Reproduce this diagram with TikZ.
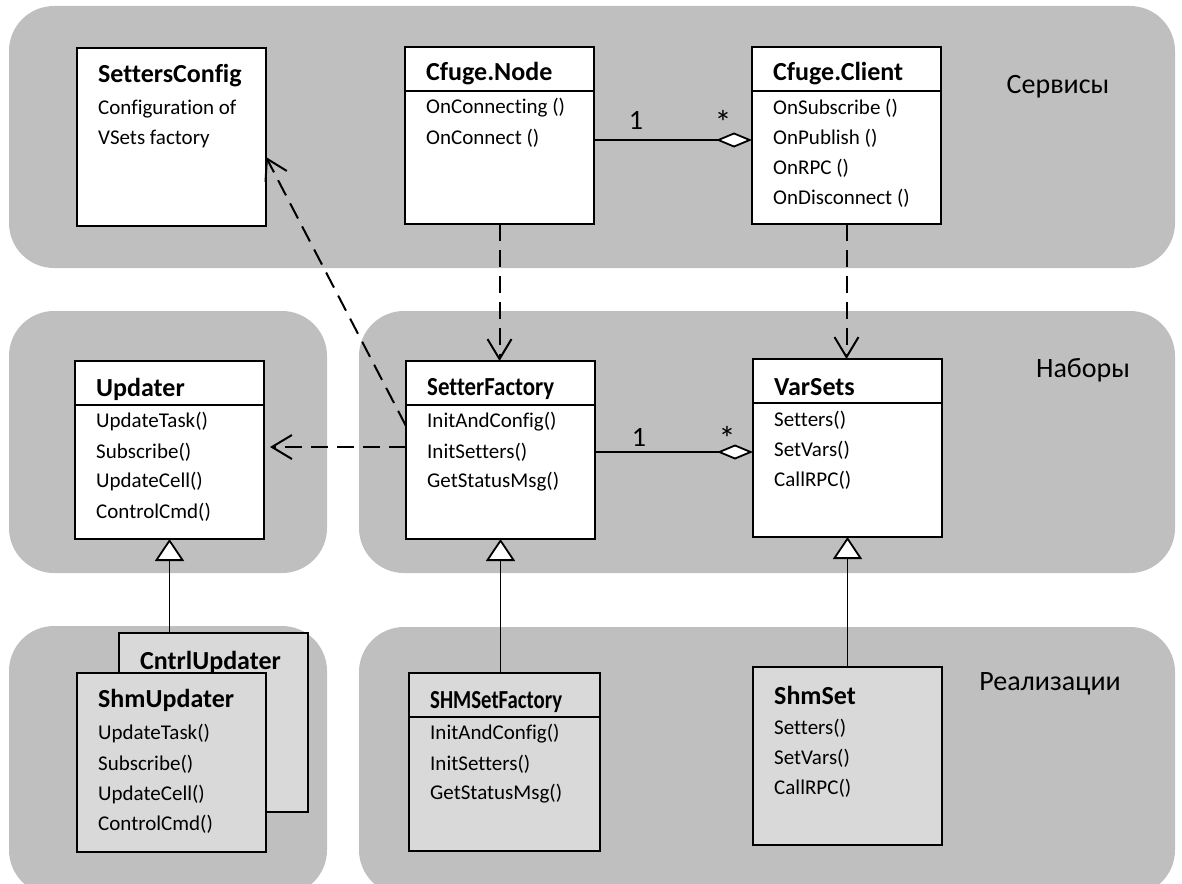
\documentclass[tikz,border=0pt]{standalone}
\usepackage{fontspec}
\setmainfont{Carlito}[Ligatures=NoCommon]
\usetikzlibrary{arrows.meta,calc}
\definecolor{panelgray}{RGB}{191,191,191}
\definecolor{boxgray}{RGB}{217,217,217}
\tikzset{
  panel/.style={fill=panelgray, draw=none, rounded corners=45pt},
  classbox/.style={draw=black, line width=2pt, fill=white, rectangle, anchor=north west,
    minimum width=189pt, minimum height=178pt, inner sep=0pt, outer sep=0pt},
  implbox/.style={classbox, fill=boxgray},
  headline/.style={line width=1.6pt},
  ctitle/.style={font=\fontsize{26}{30}\selectfont\bfseries, anchor=west, inner sep=0pt},
  cmeth/.style={font=\fontsize{21}{25}\selectfont, anchor=west, inner sep=0pt},
  lbl/.style={font=\fontsize{28}{32}\selectfont, inner sep=0pt},
  mult/.style={font=\fontsize{28}{32}\selectfont, inner sep=0pt},
  star/.style={font=\fontsize{34}{36}\selectfont, inner sep=0pt, anchor=north},
  depend/.style={line width=2pt, dash pattern=on 17pt off 9pt,
    -{Straight Barb[length=20pt,width=24pt]}},
  generalize/.style={line width=1.8pt, -{Triangle[fill=white,length=22pt,width=29pt]}},
  aggregate/.style={line width=1.8pt, -{Diamond[fill=white,length=36pt,width=15pt]}}
}
\newcommand\umlmethods[2]{%
  \foreach \m [count=\i] in {#2} {\node[cmeth] (#1-m\i) at ($(#1.north west)+(21,31+30*\i)$) {\m};}}
\begin{document}
\begin{tikzpicture}[x=1pt,y=-1pt]
\useasboundingbox (0,0) rectangle (1182,883);
\clip (0,0) rectangle (1182,883);
% panels
\fill[panel] (9,6) rectangle (1175,268);
\fill[panel] (9,311) rectangle (327,573);
\fill[panel] (359,311) rectangle (1175,573);
\fill[panel] (9,626) rectangle (327,895);
\fill[panel] (359,627) rectangle (1175,895);
% panel labels
\node[lbl] (lserv) at (1058,87) {Сервисы};
\node[lbl] (lnab) at (1083,370) {Наборы};
\node[lbl] (lreal) at (1050,684) {Реализации};

% top row
\node[classbox] (cfg) at (77,48) {};
\node[ctitle] (cfg-t) at ($(cfg.north west)+(21,28)$) {SettersConfig};
\umlmethods{cfg}{Configuration of, VSets factory}

\node[classbox, minimum height=177pt] (cnode) at (405,47) {};
\draw[headline] ($(cnode.north west)+(0,44)$) -- ($(cnode.north east)+(0,44)$);
\node[ctitle] (cnode-t) at ($(cnode.north west)+(21,27)$) {Cfuge.Node};
\umlmethods{cnode}{OnConnecting (), OnConnect ()}

\node[classbox, minimum height=177pt] (cclient) at (752,47) {};
\draw[headline] ($(cclient.north west)+(0,44)$) -- ($(cclient.north east)+(0,44)$);
\node[ctitle] (cclient-t) at ($(cclient.north west)+(21,27)$) {Cfuge.Client};
\umlmethods{cclient}{OnSubscribe (), OnPublish (), OnRPC (), OnDisconnect ()}

% middle row
\node[classbox] (upd) at (75,361) {};
\draw[headline] ($(upd.north west)+(0,44)$) -- ($(upd.north east)+(0,44)$);
\node[ctitle] (upd-t) at ($(upd.north west)+(21,28)$) {Updater};
\umlmethods{upd}{UpdateTask(), Subscribe(), UpdateCell(), ControlCmd()}

\node[classbox] (sfac) at (406,361) {};
\draw[headline] ($(sfac.north west)+(0,44)$) -- ($(sfac.north east)+(0,44)$);
\node[ctitle] (sfac-t) at ($(sfac.north west)+(21,28)$) {\scalebox{0.88}[1]{SetterFactory}};
\umlmethods{sfac}{InitAndConfig(), InitSetters(), GetStatusMsg()}

\node[classbox] (vsets) at (753,359) {};
\draw[headline] ($(vsets.north west)+(0,44)$) -- ($(vsets.north east)+(0,44)$);
\node[ctitle] (vsets-t) at ($(vsets.north west)+(21,28)$) {VarSets};
\umlmethods{vsets}{Setters(), SetVars(), CallRPC()}

% bottom row
\node[implbox, minimum height=179pt] (cntrl) at (119,633) {};
\node[ctitle] (cntrl-t) at ($(cntrl.north west)+(21,29)$) {CntrlUpdater};
\node[implbox, minimum height=179pt] (shmupd) at (77,673) {};
\node[ctitle] (shmupd-t) at ($(shmupd.north west)+(21,27)$) {ShmUpdater};
\umlmethods{shmupd}{UpdateTask(), Subscribe(), UpdateCell(), ControlCmd()}

\node[implbox, minimum width=191pt] (shmfac) at (409,673) {};
\draw[headline] ($(shmfac.north west)+(-1,44)$) -- ($(shmfac.north east)+(0,44)$);
\node[ctitle] (shmfac-t) at ($(shmfac.north west)+(21,29)$) {\scalebox{0.8}[1]{SHMSetFactory}};
\umlmethods{shmfac}{InitAndConfig(), InitSetters(), GetStatusMsg()}

\node[implbox] (shmset) at (753,667) {};
\node[ctitle] (shmset-t) at ($(shmset.north west)+(21,28)$) {ShmSet};
\umlmethods{shmset}{Setters(), SetVars(), CallRPC()}

% aggregations
\coordinate (aggA1) at ($(cnode.north east)+(0,93)$);
\draw[aggregate] (aggA1) -- (aggA1 -| cclient.west);
\node[mult] (m1a) at (636,120) {1};
\node[star] (m1b) at (723,110) {*};
\coordinate (aggA2) at ($(sfac.north east)+(0,91)$);
\draw[aggregate] (aggA2) -- (aggA2 -| vsets.west);
\node[mult] (m2a) at (639,437) {1};
\node[star] (m2b) at (727,426) {*};

% dependencies
\draw[depend] (cnode.south) -- (cnode.south |- sfac.north);
\draw[depend] (cclient.south) -- (cclient.south |- vsets.north);
\coordinate (sfacU) at ($(sfac.north west)+(0,86)$);
\draw[depend, shorten >=6pt] (sfacU) -- (sfacU -| upd.east);
\coordinate (sfacC) at ($(sfac.north west)+(0,65)$);
\coordinate (cfgC) at ($(cfg.north east)+(0,109)$);
\draw[depend] (sfacC) -- (cfgC);

% generalizations
\draw[generalize] (upd.south |- cntrl.north) -- (upd.south);
\draw[generalize] (sfac.south |- shmfac.north) -- (sfac.south);
\draw[generalize] (vsets.south |- shmset.north) -- (vsets.south);
\end{tikzpicture}
\end{document}
